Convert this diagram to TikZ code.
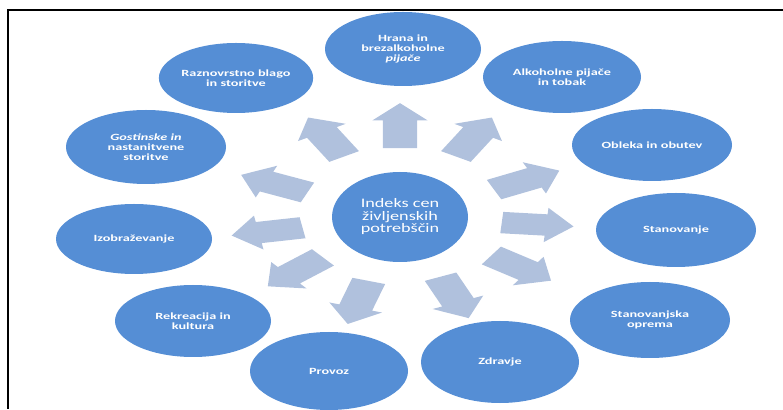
\documentclass[tikz,border=0pt]{standalone}
\usepackage{fontspec}
\setmainfont{Carlito}
\newfontfamily\ovalfont[FakeStretch=1.5]{Carlito}
\newfontfamily\sredfont[FakeStretch=1.4]{Carlito}
\usepackage{tikz}
\usetikzlibrary{shapes.geometric,shapes.arrows}
\definecolor{modra}{RGB}{85,142,213}
\definecolor{sivomodra}{RGB}{176,193,221}

\begin{document}
\begin{tikzpicture}[x=1pt, y=1pt,
  oval/.style={ellipse, fill=modra, text=white, inner sep=0pt, minimum width=156pt, minimum height=74pt, align=center, font=\ovalfont\bfseries\fontsize{9.5}{10}\selectfont},
  puscica/.style={single arrow, fill=sivomodra, transform shape, minimum height=45pt, inner xsep=0pt, inner ysep=10.5pt, single arrow head extend=6.5pt}]
  \useasboundingbox (0,0) rectangle (783,409);
  \draw[line width=2pt] (783,399) -- (8,399) -- (8,0);

  % sredina
  \node[oval, minimum width=136pt, minimum height=90pt, font=\sredfont\fontsize{13}{12.5}\selectfont] (indeks) at (400,192) {Indeks cen\\življenskih\\potrebščin};

  % skupine
  \node[oval] (hrana) at (403,360) {Hrana in\\brezalkoholne\\\textit{pijače}};
  \node[oval, minimum width=158pt, minimum height=72pt] (alkohol) at (562,332) {Alkoholne pijače\\in tobak};
  \node[oval, minimum width=160pt, minimum height=72pt] (obleka) at (652,264) {Obleka in obutev};
  \node[oval, minimum width=160pt] (stanovanje) at (676,179) {Stanovanje};
  \node[oval, minimum width=160pt, minimum height=76pt] (oprema) at (650,89) {Stanovanjska\\oprema};
  \node[oval, minimum width=158pt, minimum height=82pt] (zdravje) at (500,47) {Zdravje};
  \node[oval, minimum width=158pt, minimum height=78pt] (provoz) at (329,38) {Provoz};
  \node[oval, minimum height=72pt] (rekreacija) at (193,88) {Rekreacija in\\kultura};
  \node[oval, minimum height=70pt] (izobrazevanje) at (134,170) {Izobraževanje};
  \node[oval, minimum width=160pt] (gostinske) at (146,262) {\textit{Gostinske in}\\nastanitvene\\storitve};
  \node[oval, minimum width=152pt, minimum height=70pt] (blago) at (236,331) {Raznovrstno blago\\in storitve};

  % puscice
  \begin{scope}[shift={(indeks.center)}, xscale=1.6]
    \node[puscica, rotate=90] (p1) at (90:86) {};
    \node[puscica, rotate=60] (p2) at (60:87) {};
    \node[puscica, rotate=25] (p3) at (25:82) {};
    \node[puscica, rotate=-5] (p4) at (-5:81) {};
    \node[puscica, rotate=-34] (p5) at (-34:86) {};
    \node[puscica, rotate=-67] (p6) at (-67:82) {};
    \node[puscica, rotate=-107] (p7) at (-107:84) {};
    \node[puscica, rotate=-140] (p8) at (-140:80) {};
    \node[puscica, rotate=-170] (p9) at (-170:79) {};
    \node[puscica, rotate=157] (p10) at (157:80) {};
    \node[puscica, rotate=120] (p11) at (120:87) {};
  \end{scope}
\end{tikzpicture}
\end{document}
